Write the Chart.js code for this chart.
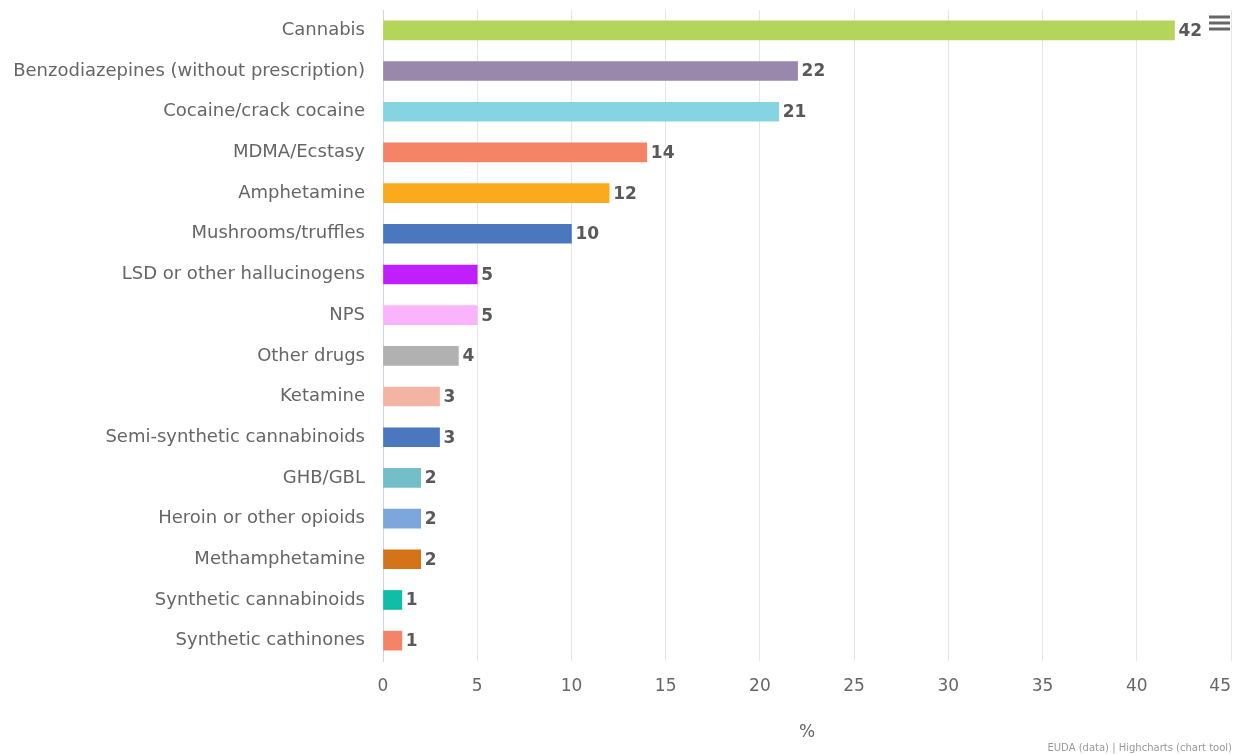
<!DOCTYPE html>
<html>
<head>
<meta charset="utf-8">
<script src="https://cdn.jsdelivr.net/npm/chart.js@4"></script>
<style>
  html, body { margin: 0; padding: 0; background: #ffffff; }
  #wrap { position: relative; width: 1235px; height: 754px; }
</style>
</head>
<body>
<div id="wrap"><canvas id="c" width="1235" height="754"></canvas></div>
<script>
const categories = [
  "Cannabis",
  "Benzodiazepines (without prescription)",
  "Cocaine/crack cocaine",
  "MDMA/Ecstasy",
  "Amphetamine",
  "Mushrooms/truffles",
  "LSD or other hallucinogens",
  "NPS",
  "Other drugs",
  "Ketamine",
  "Semi-synthetic cannabinoids",
  "GHB/GBL",
  "Heroin or other opioids",
  "Methamphetamine",
  "Synthetic cannabinoids",
  "Synthetic cathinones"
];
const values = [42, 22, 21, 14, 12, 10, 5, 5, 4, 3, 3, 2, 2, 2, 1, 1];
const barColors = [
  "#b3d65a", "#9987ac", "#86d3e2", "#f58466", "#fbaa1d", "#4a77bd",
  "#c01ffb", "#fbb4fb", "#b1b1b1", "#f4b4a4", "#4a77bd", "#74bec8",
  "#7ca6dc", "#d5731b", "#10bea8", "#f58466"
];
const xTicks = [0, 5, 10, 15, 20, 25, 30, 35, 40, 45];
const xTitle = "%";
const credits = "EUDA (data) | Highcharts (chart tool)";

const FONT = "'DejaVu Sans', sans-serif";

const dataLabelPlugin = {
  id: 'dataLabels',
  afterDatasetsDraw(chart) {
    const ctx = chart.ctx;
    const meta = chart.getDatasetMeta(0);
    ctx.save();
    ctx.font = "bold 17px " + FONT;
    ctx.fillStyle = "#595959";
    ctx.textAlign = "left";
    ctx.textBaseline = "middle";
    meta.data.forEach((bar, i) => {
      ctx.fillText(String(values[i]), bar.x + 4, bar.y + 1);
    });
    ctx.restore();
  }
};

const extrasPlugin = {
  id: 'extras',
  afterDraw(chart) {
    const ctx = chart.ctx;
    const xs = chart.scales.x;
    ctx.save();
    // last x tick label, shifted inside like Highcharts
    ctx.font = "17px " + FONT;
    ctx.fillStyle = "#666666";
    ctx.textAlign = "right";
    ctx.textBaseline = "middle";
    ctx.fillText("45", xs.getPixelForValue(45), 687);
    // credits
    ctx.font = "10px " + FONT;
    ctx.fillStyle = "#999999";
    ctx.textAlign = "right";
    ctx.textBaseline = "alphabetic";
    ctx.fillText(credits, 1232, 751);
    // menu icon
    ctx.fillStyle = "#666666";
    [15.5, 21.5, 27.5].forEach(y => {
      ctx.fillRect(1209, y, 21, 3);
    });
    ctx.restore();
  }
};

new Chart(document.getElementById('c'), {
  type: 'bar',
  data: {
    labels: categories,
    datasets: [{
      data: values,
      backgroundColor: barColors,
      borderWidth: 0,
      barThickness: 19
    }]
  },
  options: {
    indexAxis: 'y',
    responsive: false,
    animation: false,
    layout: { padding: { top: 10, right: 4, left: 0, bottom: 0 } },
    plugins: {
      legend: { display: false },
      tooltip: { enabled: false }
    },
    scales: {
      x: {
        min: 0,
        max: 45,
        afterBuildTicks(s) { s.ticks = xTicks.map(v => ({ value: v })); },
        afterFit(s) { s.height = 93; s.paddingLeft = 0; s.paddingRight = 0; },
        grid: { color: "#e6e6e6", lineWidth: 1, drawTicks: false },
        border: { display: false },
        ticks: {
          font: { family: FONT, size: 17 },
          color: "#666666",
          padding: 15,
          maxRotation: 0,
          callback: (v) => (v === 45 ? "" : String(v))
        },
        title: {
          display: true,
          text: xTitle,
          font: { family: FONT, size: 17 },
          color: "#666666",
          padding: { top: 12, bottom: 11 }
        }
      },
      y: {
        afterFit(s) { s.width = 383; s.paddingTop = 0; s.paddingBottom = 0; },
        grid: { display: false, drawTicks: false },
        border: { display: true, color: "#ccd6eb", width: 1 },
        ticks: {
          font: { family: FONT, size: 18 },
          color: "#666666",
          padding: 18,
          autoSkip: false
        }
      }
    }
  },
  plugins: [dataLabelPlugin, extrasPlugin]
});
</script>
</body>
</html>
